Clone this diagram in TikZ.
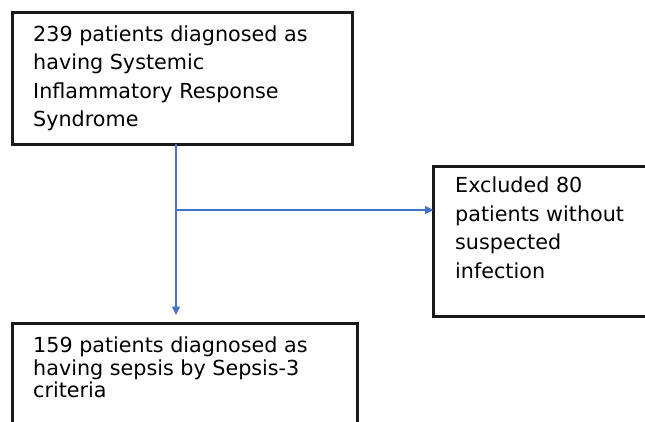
\documentclass[tikz,border=0pt]{standalone}
\usepackage{fontspec}
\setmainfont{DejaVu Sans}
\usetikzlibrary{arrows.meta,calc}
\definecolor{arrowblue}{HTML}{4472C4}
\begin{document}
\begin{tikzpicture}[x=1pt,y=-1pt,
  box/.style={draw=black!90,line width=3pt,rectangle,inner sep=0pt,outer sep=0pt,anchor=north west},
  txt/.style={anchor=north west,inner sep=0pt,align=left,font=\fontsize{20.7}{28.5}\selectfont},
  txttight/.style={txt,font=\fontsize{20.7}{22.7}\selectfont},
  conn/.style={draw=arrowblue,line width=1.4pt},
  arr/.style={conn,-{Triangle[length=8.5pt,width=8pt]}}]
\useasboundingbox (0,0) rectangle (645,421);
\clip (0,0) rectangle (645,421);
\fill[white] (0,0) rectangle (645,421);
% boxes
\node[box,minimum width=339.5pt,minimum height=131.5pt] (b1) at (12.5,12.5) {};
\node[box,minimum width=230pt,minimum height=150.5pt] (b2) at (433.5,166) {};
\node[box,minimum width=344.5pt,minimum height=120pt] (b3) at (12.5,323.5) {};
% texts
\node[txt] (t1) at (33,25.5) {239 patients diagnosed as\\having Systemic\\Inflammatory Response\\Syndrome};
\node[txt] (t2) at (455,177) {Excluded 80\\patients without\\suspected\\infection};
\node[txttight] (t3) at (33,336.5) {159 patients diagnosed as\\having sepsis by Sepsis-3\\criteria};
% connectors
\coordinate (split) at (176,210);
\coordinate (downend) at (176,315);
\draw[arr] (b1.south -| split) -- (downend);
\draw[arr] (split) -- (split -| b2.west);
\end{tikzpicture}
\end{document}
